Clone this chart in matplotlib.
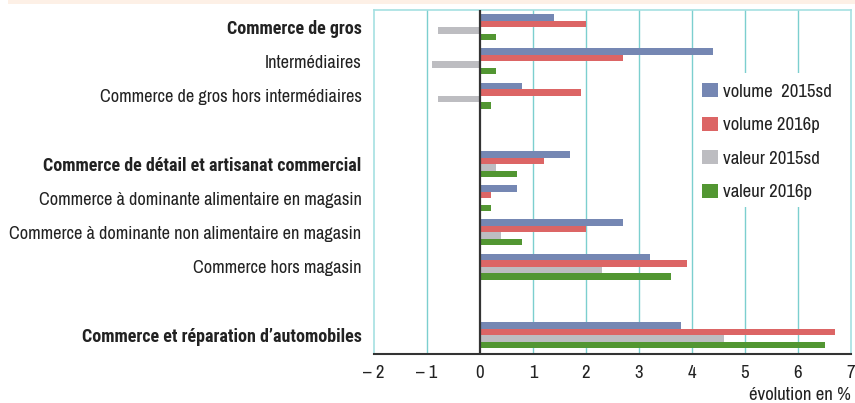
import matplotlib
matplotlib.use("Agg")
import matplotlib.pyplot as plt
from matplotlib.patches import Rectangle
import numpy as np

categories = [
    "Commerce de gros",
    "Intermédiaires",
    "Commerce de gros hors intermédiaires",
    "Commerce de détail et artisanat commercial",
    "Commerce à dominante alimentaire en magasin",
    "Commerce à dominante non alimentaire en magasin",
    "Commerce hors magasin",
    "Commerce et réparation d’automobiles",
]
bold_categories = {0, 3, 7}
row_positions = [0, 1, 2, 4, 5, 6, 7, 9]

volume_2015sd = [1.4, 4.4, 0.8, 1.7, 0.7, 2.7, 3.2, 3.8]
volume_2016p = [2.0, 2.7, 1.9, 1.2, 0.2, 2.0, 3.9, 6.7]
valeur_2015sd = [-0.8, -0.9, -0.8, 0.3, 0.0, 0.4, 2.3, 4.6]
valeur_2016p = [0.3, 0.3, 0.2, 0.7, 0.2, 0.8, 3.6, 6.5]

series = [
    ("volume  2015sd", volume_2015sd, "#7587b3"),
    ("volume 2016p", volume_2016p, "#dc6565"),
    ("valeur 2015sd", valeur_2015sd, "#bdbdc1"),
    ("valeur 2016p", valeur_2016p, "#529632"),
]
xticks = [-2, -1, 0, 1, 2, 3, 4, 5, 6, 7]
xtick_labels = ["– 2", "– 1", "0", "1", "2", "3", "4", "5", "6", "7"]

plt.rcParams['font.family'] = ['Archivo Narrow', 'Roboto Condensed', 'DejaVu Sans']
FS = 13.2
LFS = 13.5
TXT = "#222222"

fig = plt.figure(figsize=(8.55, 4.03), dpi=100)
fig.patches.append(Rectangle((8/855, 1-3.5/403), 1, 3.5/403, transform=fig.transFigure,
                             facecolor="#fdf0e6", edgecolor="none"))
ax = fig.add_axes([374/855, 1-354/403, (851-374)/855, (354-10)/403])

h = 0.19
pos = np.array(row_positions, dtype=float)
offsets = [-1.5*h, -0.5*h, 0.5*h, 1.5*h]
handles = []
for (name, vals, col), off in zip(series, offsets):
    b = ax.barh(pos + off, vals, height=h, color=col, label=name, zorder=3)
    handles.append(b)

ax.set_xlim(-2, 7)
ax.set_ylim(9.55, -0.5)
ax.set_xticks(xticks)
ax.set_xticklabels(xtick_labels, fontsize=13.5, color=TXT)
ax.tick_params(axis='x', length=0, pad=8)
ax.set_yticks(pos)
ax.set_yticklabels(categories, fontsize=FS, color=TXT)
for i, lab in enumerate(ax.get_yticklabels()):
    if i in bold_categories:
        lab.set_fontfamily(['Roboto Condensed', 'DejaVu Sans'])
        lab.set_fontweight("bold")
        lab.set_fontsize(13)
ax.tick_params(axis='y', length=0, pad=9)

for x in xticks[1:-1]:
    if x == 0:
        continue
    ax.axvline(x, color="#7ccfcf", lw=1, zorder=1)
ax.axvline(0, color="#333333", lw=1.6, zorder=4)
for side in ["left", "right", "top"]:
    ax.spines[side].set_color("#a6e0e2")
    ax.spines[side].set_linewidth(1.2)
ax.spines["bottom"].set_color("#333333")
ax.spines["bottom"].set_linewidth(1.5)

ax.add_patch(Rectangle((4.05, 1.34), 2.95, 3.92, facecolor="white", edgecolor="none", zorder=2))
lfs_px = LFS * 100 / 72
leg = ax.legend(handles=handles, loc="upper left", bbox_to_anchor=((702-374)/477, 1-(83-10)/344),
                frameon=False, fontsize=LFS, handlelength=16/lfs_px, handleheight=15/lfs_px,
                labelspacing=0.9, handletextpad=0.25, borderpad=0, borderaxespad=0)
for t in leg.get_texts():
    t.set_color(TXT)

fig.text(851/855, 1-395/403, "évolution en %", ha="right", va="center", fontsize=13.5, color=TXT)

fig.savefig("out.png", dpi=100)
